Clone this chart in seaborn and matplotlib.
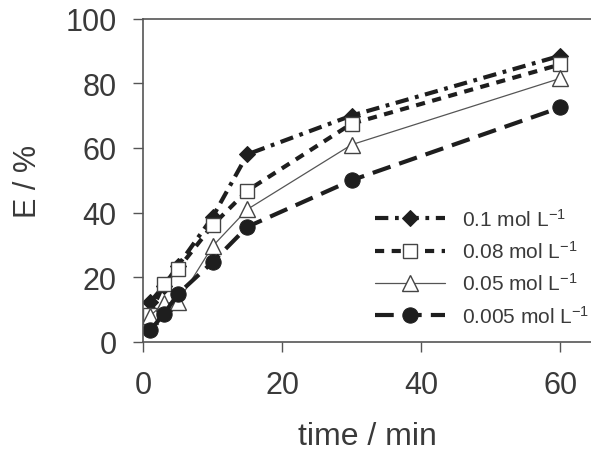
import matplotlib
matplotlib.use("Agg")
import matplotlib.pyplot as plt
import seaborn as sns
import pandas as pd

time_min = [1, 3, 5, 10, 15, 30, 60]
e_01 = [12.3, 17.3, 23.5, 38.6, 58.0, 70.0, 88.5]
e_008 = [8.5, 18.0, 22.5, 36.1, 46.8, 67.5, 85.8]
e_005 = [8.0, 12.0, 12.3, 29.6, 41.0, 61.0, 81.5]
e_0005 = [3.6, 8.6, 14.8, 24.7, 35.6, 50.0, 72.5]
labels = [r"0.1 mol L$^{\mathregular{-1}}$", r"0.08 mol L$^{\mathregular{-1}}$",
          r"0.05 mol L$^{\mathregular{-1}}$", r"0.005 mol L$^{\mathregular{-1}}$"]

sns.set_style("ticks")
plt.rcParams["font.family"] = ["Liberation Sans", "DejaVu Sans"]
plt.rcParams["mathtext.fontset"] = "custom"
plt.rcParams["mathtext.rm"] = "Liberation Sans"
plt.rcParams["mathtext.it"] = "Liberation Sans"
plt.rcParams["mathtext.default"] = "regular"

fig = plt.figure(figsize=(5.91, 4.52), dpi=100)
ax = fig.add_axes([143 / 591, 1 - 343 / 452, 1 - 143 / 591, (343 - 19.5) / 452])

dark = "#1e1e1e"
txt = "#3a3a3a"
styles = [
    dict(linestyle=(0, (3.2, 1.6, 0.9, 1.6)), linewidth=3.0, marker="D", markersize=8,
         markerfacecolor=dark, markeredgecolor=dark, color=dark),
    dict(linestyle=(0, (2.2, 1.8)), linewidth=3.0, marker="s", markersize=10,
         markerfacecolor="white", markeredgecolor="#444444", markeredgewidth=1.0, color=dark),
    dict(linestyle="-", linewidth=0.9, marker="^", markersize=11,
         markerfacecolor="white", markeredgecolor="#444444", markeredgewidth=1.0, color="#555555"),
    dict(linestyle=(0, (4.5, 2.2)), linewidth=3.0, marker="o", markersize=11,
         markerfacecolor=dark, markeredgecolor=dark, color=dark),
]
series = [e_01, e_008, e_005, e_0005]
for vals, lab, st in zip(series, labels, styles):
    df = pd.DataFrame({"t": time_min, "E": vals})
    sns.lineplot(data=df, x="t", y="E", ax=ax, label=lab, **st)

ax.set_xlim(0, 64.4)
ax.set_ylim(0, 100)
ax.set_xticks([0, 20, 40, 60])
ax.set_yticks([0, 20, 40, 60, 80, 100])
ax.tick_params(axis="both", direction="out", length=7, width=1.0, color="#555555",
               labelsize=22, labelcolor=txt)
ax.tick_params(axis="y", pad=12)
ax.tick_params(axis="x", pad=13)
for s in ["left", "bottom", "top"]:
    ax.spines[s].set_color("#555555")
    ax.spines[s].set_linewidth(1.2)
ax.spines["right"].set_visible(False)
ax.spines["top"].set_visible(True)
ax.set_xlabel("time / min", fontsize=23, color=txt, labelpad=15)
ax.set_ylabel("E / %", fontsize=22, color=txt, labelpad=16)

leg = ax.legend(loc="upper left", bbox_to_anchor=(0.518, 0.415), frameon=False,
                fontsize=15, handlelength=3.35, numpoints=1, labelspacing=0.5,
                borderpad=0, borderaxespad=0, handletextpad=0.8, labelcolor=txt)

fig.savefig("out.png", dpi=100)
